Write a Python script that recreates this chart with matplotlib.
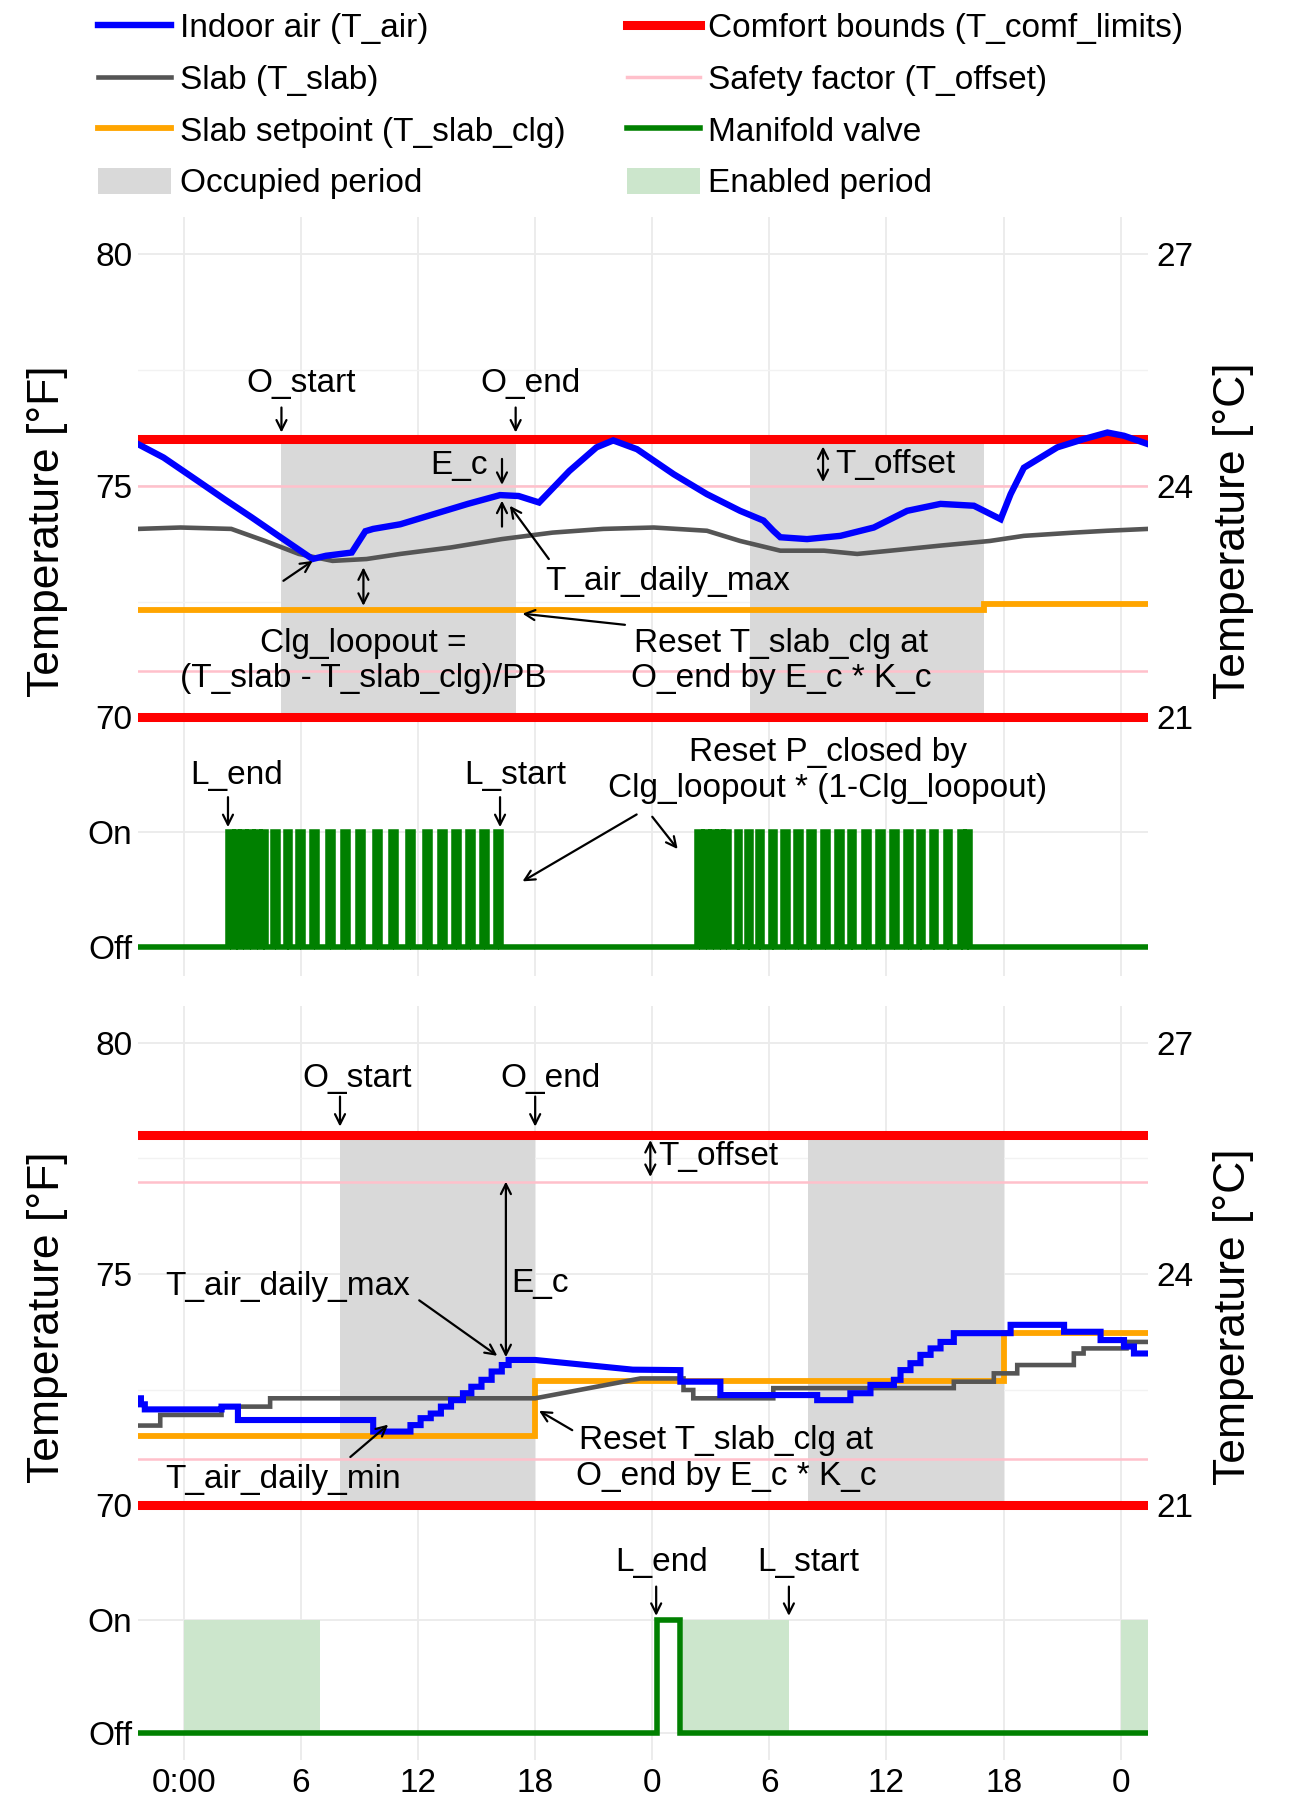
import matplotlib
matplotlib.use("Agg")
import matplotlib.pyplot as plt
from matplotlib.lines import Line2D
from matplotlib.patches import Patch

plt.rcParams["font.family"] = ["Liberation Sans", "DejaVu Sans"]

# ---------------- data ----------------
X_RANGE = (-2.35, 49.4)
HOUR_TICKS = [0, 6, 12, 18, 24, 30, 36, 42, 48]
HOUR_LABELS = ["0:00", "6", "12", "18", "0", "6", "12", "18", "0"]
F_TICKS = [70, 75, 80]
C_LABELS = ["21", "24", "27"]

# case A (top): measured
A_COMFORT = [70, 76]
A_OFFSET = [71, 75]
A_OCCUPIED = [(5, 17), (29, 41)]
A_AIR_H = [-2.35, -1.04, 0.70, 2.08, 3.47, 4.85, 5.72, 6.59, 7.28, 8.6, 9.3, 9.70, 11.09,
           12.82, 14.55, 16.2, 17.15, 18.2, 19.75, 21.14, 22.0, 23.22, 25.1, 26.8, 28.5,
           29.7, 30.2, 30.56, 31.93, 33.64, 35.35, 37.06, 38.77, 40.48, 41.85, 42.36, 43.04,
           44.75, 46.12, 47.32, 48.17, 49.4]
A_AIR_T = [75.90, 75.61, 75.11, 74.71, 74.32, 73.92, 73.67, 73.42, 73.49, 73.56, 74.02, 74.07,
           74.17, 74.39, 74.61, 74.80, 74.78, 74.64, 75.32, 75.83, 75.98, 75.79, 75.25, 74.82,
           74.46, 74.25, 74.03, 73.89, 73.85, 73.92, 74.10, 74.46, 74.61, 74.57, 74.28, 74.82,
           75.39, 75.83, 76.01, 76.15, 76.08, 75.90]
A_SLAB_H = [-2.35, -0.17, 2.43, 4.16, 5.89, 7.62, 9.36, 11.09, 13.69, 16.29, 18.89, 21.49,
            24.08, 26.8, 28.5, 30.56, 32.8, 34.5, 36.2, 38.77, 41.3, 43.04, 45.6, 47.3, 49.4]
A_SLAB_T = [74.07, 74.10, 74.07, 73.81, 73.53, 73.38, 73.42, 73.53, 73.67, 73.85, 73.99, 74.07,
            74.10, 74.03, 73.81, 73.60, 73.60, 73.53, 73.60, 73.71, 73.81, 73.92, 73.99, 74.03,
            74.07]
A_SP_H = [-2.35, 41.0, 41.0, 49.4]
A_SP_T = [72.33, 72.33, 72.45, 72.45]
# manifold valve opening / closing times [h]
B_VALVE_ON = [2.26, 2.60, 2.95, 3.30, 3.65, 4.00, 4.55, 5.21, 5.86, 6.58, 7.37, 8.15, 8.94,
              9.79, 10.63, 11.48, 12.34, 13.12, 13.84, 14.56, 15.28, 15.98,
              26.30, 26.65, 27.00, 27.35, 27.70, 28.34, 28.86, 29.43, 30.07, 30.72, 31.37,
              32.03, 32.75, 33.47, 34.12, 34.84, 35.56, 36.28, 37.00, 37.65, 38.31, 39.03,
              39.75, 40.10]
B_VALVE_OFF = [2.50, 2.85, 3.20, 3.55, 3.90, 4.20, 4.80, 5.46, 6.11, 6.83, 7.62, 8.40, 9.19,
               10.04, 10.88, 11.73, 12.59, 13.37, 14.09, 14.81, 15.53, 16.26,
               26.55, 26.90, 27.25, 27.60, 27.95, 28.52, 29.04, 29.64, 30.30, 30.96, 31.61,
               32.27, 32.99, 33.71, 34.36, 35.08, 35.80, 36.52, 37.24, 37.89, 38.55, 39.27,
               39.95, 40.30]

# case C (bottom): simulated, stepwise
C_COMFORT = [70, 78]
C_OFFSET = [71, 77]
C_OCCUPIED = [(8, 18), (32, 42)]
C_AIR_H = [-2.35, -2.2, -2.2, -2.0, -2.0, 1.93, 1.93, 2.77, 2.77, 9.7, 9.7, 11.61, 11.61,
           12.13, 12.13, 12.65, 12.65, 13.17, 13.17, 13.69, 13.69, 14.30, 14.30, 14.73, 14.73,
           15.25, 15.25, 15.77, 15.77, 16.29, 16.29, 16.64, 16.64, 18.0, 23.0, 25.44, 25.44,
           27.49, 27.49, 32.45, 32.45, 34.15, 34.15, 35.18, 35.18, 36.38, 36.38, 36.72, 36.72,
           37.23, 37.23, 37.74, 37.74, 38.26, 38.26, 38.77, 38.77, 39.45, 39.45, 42.36, 42.36,
           45.1, 45.1, 46.97, 46.97, 48.17, 48.17, 48.68, 48.68, 49.4]
C_AIR_T = [72.31, 72.31, 72.18, 72.18, 72.07, 72.07, 72.13, 72.13, 71.84, 71.84, 71.59, 71.59,
           71.73, 71.73, 71.88, 71.88, 71.98, 71.98, 72.13, 72.13, 72.27, 72.27, 72.42, 72.42,
           72.56, 72.56, 72.71, 72.71, 72.89, 72.89, 73.03, 73.03, 73.14, 73.14, 72.93, 72.92,
           72.67, 72.67, 72.38, 72.38, 72.27, 72.27, 72.42, 72.42, 72.60, 72.60, 72.71, 72.71,
           72.92, 72.92, 73.07, 73.07, 73.25, 73.25, 73.39, 73.39, 73.53, 73.53, 73.72, 73.72,
           73.90, 73.90, 73.75, 73.75, 73.57, 73.57, 73.43, 73.43, 73.28, 73.28]
C_SLAB_H = [-2.35, -1.21, -1.21, 1.93, 1.93, 4.42, 4.42, 18.0, 23.4, 25.6, 25.6, 26.1, 26.1,
            30.2, 30.2, 39.45, 39.45, 41.5, 41.5, 42.7, 42.7, 45.6, 45.6, 46.1, 46.1, 48.3,
            48.3, 49.4]
C_SLAB_T = [71.72, 71.72, 71.95, 71.95, 72.13, 72.13, 72.31, 72.31, 72.74, 72.74, 72.49, 72.49,
            72.31, 72.31, 72.53, 72.53, 72.67, 72.67, 72.85, 72.85, 73.03, 73.03, 73.28, 73.28,
            73.39, 73.39, 73.53, 73.53]
C_SP_H = [-2.35, 18.0, 18.0, 42.0, 42.0, 49.4]
C_SP_T = [71.49, 71.49, 72.69, 72.69, 73.72, 73.72]
D_VALVE_ON = [24.25]
D_VALVE_OFF = [25.4]
D_ENABLED = [(0, 7), (25.55, 31), (48, 49.4)]

# ---------------- styles ----------------
C_AIR = "#0000FF"
C_SLAB = "#555555"
C_SP = "#FFA500"
C_RED = "#FF0000"
C_PINK = "#FFC0CB"
C_VALVE = "#008000"
C_OCC = "#D9D9D9"
C_ENA = "#CCE6CC"
FS = 24
ARROW = dict(arrowstyle="->", color="black", lw=1.6, shrinkA=0, shrinkB=0, mutation_scale=18)
DARROW = dict(ARROW, arrowstyle="<->")


def valve_steps(on_times, off_times):
    t, v = [X_RANGE[0]], [0]
    for a, b in zip(on_times, off_times):
        t += [a, a, b, b]
        v += [0, 1, 1, 0]
    t.append(X_RANGE[1])
    v.append(0)
    return t, v


def base_style(ax, show_x):
    for s in ax.spines.values():
        s.set_visible(False)
    ax.set_xlim(*X_RANGE)
    ax.set_xticks(HOUR_TICKS)
    ax.set_xticklabels(HOUR_LABELS if show_x else [])
    ax.grid(True, which="major", color="#EBEBEB", lw=1.3)
    ax.set_axisbelow(True)
    ax.tick_params(length=0, labelsize=FS, pad=4)
    ax.tick_params(axis="x", pad=6)


def temp_panel(ax, comfort, offset, occupied, air, slab, sp, air_lw):
    base_style(ax, False)
    ax.set_ylim(69.6, 80.8)
    ax.set_yticks(F_TICKS)
    ax.set_yticks([72.5, 77.5], minor=True)
    ax.grid(True, which="minor", axis="y", color="#F2F2F2", lw=1.0)
    ax.tick_params(which="minor", length=0)
    for a, b in occupied:
        ax.fill_between([a, b], comfort[0], comfort[1], color=C_OCC, lw=0, zorder=1)
    for v in offset:
        ax.axhline(v, color=C_PINK, lw=1.8, zorder=2)
    for v in comfort:
        ax.axhline(v, color=C_RED, lw=6.5, zorder=2)
    ax.plot(*sp, color=C_SP, lw=4.2, zorder=3, solid_joinstyle="miter")
    ax.plot(*slab, color=C_SLAB, lw=3.3, zorder=4, solid_joinstyle="miter")
    ax.plot(*air, color=C_AIR, lw=air_lw, zorder=5, solid_joinstyle="miter")
    tw = ax.twinx()
    tw.set_ylim(ax.get_ylim())
    tw.set_yticks(F_TICKS)
    tw.set_yticklabels(C_LABELS)
    tw.tick_params(length=0, labelsize=FS, pad=6)
    for s in tw.spines.values():
        s.set_visible(False)


def valve_panel(ax, on_times, off_times, ylim, show_x):
    base_style(ax, show_x)
    ax.set_ylim(*ylim)
    ax.set_yticks([0, 1])
    ax.set_yticklabels(["Off", "On"])
    t, v = valve_steps(on_times, off_times)
    ax.plot(t, v, color=C_VALVE, lw=4.0, zorder=4, solid_joinstyle="miter")


def note(ax, text, xy, **kw):
    ax.text(xy[0], xy[1], text, fontsize=FS, ha=kw.pop("ha", "center"), va="center",
            linespacing=1.2, zorder=6, **kw)


def arrow(ax, tail, head, double=False):
    ax.annotate("", xy=head, xytext=tail, arrowprops=DARROW if double else ARROW, zorder=6)


fig = plt.figure(figsize=(12.94, 18), dpi=100)
L, W = 138 / 1294, 1010 / 1294
ax_a = fig.add_axes([L, 0.5911, W, 0.2883])
ax_b = fig.add_axes([L, 0.4578, W, 0.1333])
ax_c = fig.add_axes([L, 0.1536, W, 0.2875])
ax_d = fig.add_axes([L, 0.0222, W, 0.1314])

temp_panel(ax_a, A_COMFORT, A_OFFSET, A_OCCUPIED, (A_AIR_H, A_AIR_T), (A_SLAB_H, A_SLAB_T),
           (A_SP_H, A_SP_T), 4.6)
valve_panel(ax_b, B_VALVE_ON, B_VALVE_OFF, (-0.25, 1.83), False)
temp_panel(ax_c, C_COMFORT, C_OFFSET, C_OCCUPIED, (C_AIR_H, C_AIR_T), (C_SLAB_H, C_SLAB_T),
           (C_SP_H, C_SP_T), 4.4)
valve_panel(ax_d, D_VALVE_ON, D_VALVE_OFF, (-0.24, 1.86), True)
for a, b in D_ENABLED:
    ax_d.fill_between([a, b], 0, 1, color=C_ENA, lw=0, zorder=1)

# --- annotations, top temperature panel
note(ax_a, "O_start", (6.0, 77.2))
arrow(ax_a, (5.0, 76.69), (5.0, 76.15))
note(ax_a, "O_end", (17.75, 77.2))
arrow(ax_a, (17.0, 76.69), (17.0, 76.15))
note(ax_a, "E_c", (14.1, 75.44))
arrow(ax_a, (16.3, 75.58), (16.3, 75.02))
arrow(ax_a, (16.3, 74.12), (16.3, 74.68))
note(ax_a, "T_air_daily_max", (24.8, 72.94))
arrow(ax_a, (18.7, 73.42), (16.7, 74.57))
arrow(ax_a, (5.1, 72.95), (6.6, 73.38))
arrow(ax_a, (9.2, 73.24), (9.2, 72.41), double=True)
note(ax_a, "Clg_loopout =\n(T_slab - T_slab_clg)/PB", (9.2, 71.22))
note(ax_a, "Reset T_slab_clg at\nO_end by E_c * K_c", (30.6, 71.22))
arrow(ax_a, (22.6, 72.0), (17.35, 72.24))
arrow(ax_a, (32.75, 75.85), (32.75, 75.08), double=True)
note(ax_a, "T_offset", (33.4, 75.47), ha="left")

# --- valve panel 1
note(ax_b, "L_end", (2.7, 1.49))
arrow(ax_b, (2.26, 1.30), (2.26, 1.04))
note(ax_b, "L_start", (17.0, 1.49))
arrow(ax_b, (16.2, 1.30), (16.2, 1.04))
note(ax_b, "Reset P_closed by\nClg_loopout * (1-Clg_loopout)", (33.0, 1.53))
arrow(ax_b, (23.2, 1.15), (17.35, 0.57))
arrow(ax_b, (24.0, 1.13), (25.3, 0.85))

# --- bottom temperature panel
note(ax_c, "O_start", (8.9, 79.24))
arrow(ax_c, (8.0, 78.84), (8.0, 78.19))
note(ax_c, "O_end", (18.8, 79.24))
arrow(ax_c, (18.0, 78.84), (18.0, 78.19))
arrow(ax_c, (23.9, 77.9), (23.9, 77.1), double=True)
note(ax_c, "T_offset", (24.3, 77.54), ha="left")
arrow(ax_c, (16.5, 77.0), (16.5, 73.2), double=True)
note(ax_c, "E_c", (16.75, 74.8), ha="left")
note(ax_c, "T_air_daily_max", (5.3, 74.73))
arrow(ax_c, (12.06, 74.43), (16.06, 73.23))
note(ax_c, "T_air_daily_min", (5.1, 70.55))
arrow(ax_c, (8.53, 71.04), (10.47, 71.74))
note(ax_c, "Reset T_slab_clg at\nO_end by E_c * K_c", (27.8, 71.0))
arrow(ax_c, (19.9, 71.62), (18.2, 72.04))

# --- valve panel 2
note(ax_d, "L_end", (24.5, 1.51))
arrow(ax_d, (24.2, 1.30), (24.2, 1.04))
note(ax_d, "L_start", (32.0, 1.51))
arrow(ax_d, (31.0, 1.30), (31.0, 1.04))

# --- axis titles
for yc in (1 - 531 / 1800, 1 - 1317 / 1800):
    fig.text(48 / 1294, yc, "Temperature [°F]", rotation=90, ha="center", va="center", fontsize=32)
    fig.text(1234 / 1294, yc, "Temperature [°C]", rotation=90, ha="center", va="center", fontsize=32)

# --- legend
handles = [
    Line2D([], [], color=C_AIR, lw=4.6),
    Line2D([], [], color=C_SLAB, lw=3.3),
    Line2D([], [], color=C_SP, lw=4.2),
    Patch(facecolor=C_OCC, lw=0),
    Line2D([], [], color=C_RED, lw=6.5),
    Line2D([], [], color=C_PINK, lw=2.5),
    Line2D([], [], color=C_VALVE, lw=4.0),
    Patch(facecolor=C_ENA, lw=0),
]
labels = ["Indoor air (T_air)", "Slab (T_slab)", "Slab setpoint (T_slab_clg)", "Occupied period",
          "Comfort bounds (T_comf_limits)", "Safety factor (T_offset)", "Manifold valve",
          "Enabled period"]
fig.legend(handles, labels, ncol=2, loc="upper left", bbox_to_anchor=(98 / 1294, 1 - 13 / 1800),
           frameon=False, fontsize=FS, handlelength=2.2, handletextpad=0.25, columnspacing=1.84,
           labelspacing=0.61, borderpad=0, borderaxespad=0, handleheight=0.8)

fig.savefig("out.png", dpi=100)
